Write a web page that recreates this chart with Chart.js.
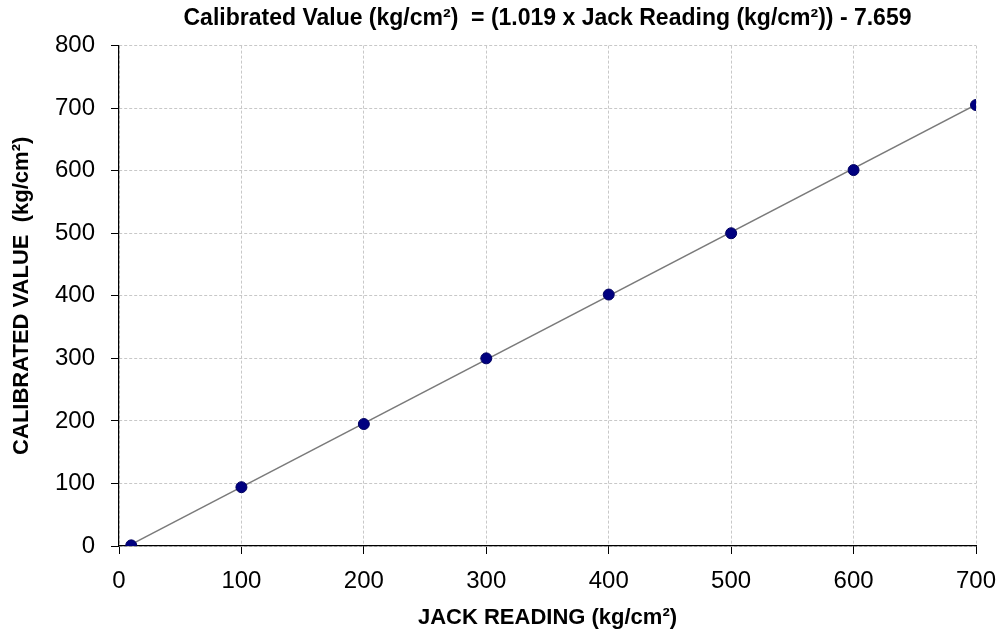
<!DOCTYPE html>
<html>
<head>
<meta charset="utf-8">
<script src="https://cdn.jsdelivr.net/npm/chart.js@4.4.1/dist/chart.umd.min.js"></script>
<style>
    html, body { margin: 0; padding: 0; background: #fff; }
    #wrap { width: 1001px; height: 631px; }
</style>
</head>
<body>
<div id="wrap"><canvas id="myChart"></canvas></div>
<script>
// jack readings and calibrated values
var jackReading = [10, 100, 200, 300, 400, 500, 600, 700];
var calibrated = [1, 94, 195, 300, 402, 500, 601, 705];
// trend line end points (kg/cm2)
var trendX = [10, 700];
var trendY = [2.5, 705.6];

var titleText = 'Calibrated Value (kg/cm\u00B2)  = (1.019 x Jack Reading (kg/cm\u00B2)) - 7.659';
var xTitle = 'JACK READING (kg/cm\u00B2)';
var yTitle = 'CALIBRATED VALUE  (kg/cm\u00B2)';

var font = "'Liberation Sans', Arial, sans-serif";

var ctx = document.getElementById('myChart').getContext('2d');
var myChart = new Chart(ctx, {
    type: 'scatter',
    data: {
        datasets: [
            {
                label: 'Trend',
                data: trendX.map(function (x, i) { return { x: x, y: trendY[i] }; }),
                showLine: true,
                borderColor: '#7a7a7a',
                borderWidth: 1.5,
                pointRadius: 0,
                fill: false,
                order: 2
            },
            {
                label: 'Calibration',
                data: jackReading.map(function (x, i) { return { x: x, y: calibrated[i] }; }),
                backgroundColor: '#000080',
                borderColor: '#000060',
                borderWidth: 1,
                pointRadius: 5.5,
                order: 1
            }
        ]
    },
    options: {
        responsive: true,
        maintainAspectRatio: false,
        animation: false,
        layout: { padding: { left: 0, right: 25, top: 0, bottom: 0 } },
        scales: {
            x: {
                type: 'linear',
                min: 0,
                max: 700,
                ticks: {
                    stepSize: 100,
                    color: '#000',
                    padding: 13,
                    font: { family: font, size: 24 }
                },
                grid: {
                    color: '#c8c8c8',
                    tickColor: '#000',
                    tickLength: 8,
                    tickBorderDash: []
                },
                border: { display: true, color: '#000', width: 1.2, dash: [3, 2] },
                title: {
                    display: true,
                    text: xTitle,
                    color: '#000',
                    padding: { top: 0, bottom: 0 },
                    font: { family: font, size: 22, weight: 'bold' }
                },
                afterFit: function (scale) {
                    scale.height = 85;
                    scale.paddingRight = 0;
                    scale.paddingLeft = 0;
                }
            },
            y: {
                min: 0,
                max: 800,
                ticks: {
                    stepSize: 100,
                    color: '#000',
                    padding: 16,
                    font: { family: font, size: 24 }
                },
                grid: {
                    color: '#c8c8c8',
                    tickColor: '#000',
                    tickLength: 8,
                    tickBorderDash: []
                },
                border: { display: true, color: '#000', width: 1.2, dash: [3, 2] },
                title: {
                    display: true,
                    text: yTitle,
                    color: '#000',
                    padding: { top: 9, bottom: 0 },
                    font: { family: font, size: 22, weight: 'bold' }
                },
                afterFit: function (scale) {
                    scale.width = 119;
                    scale.paddingTop = 0;
                    scale.paddingBottom = 0;
                }
            }
        },
        plugins: {
            legend: { display: false },
            tooltip: { enabled: false },
            title: {
                display: true,
                fullSize: false, // centre over the plot area, not the canvas
                text: titleText,
                color: '#000',
                padding: { top: 5, bottom: 13 },
                font: { family: font, size: 23, weight: 'bold', lineHeight: 1.2 }
            }
        }
    }
});
</script>
</body>
</html>
